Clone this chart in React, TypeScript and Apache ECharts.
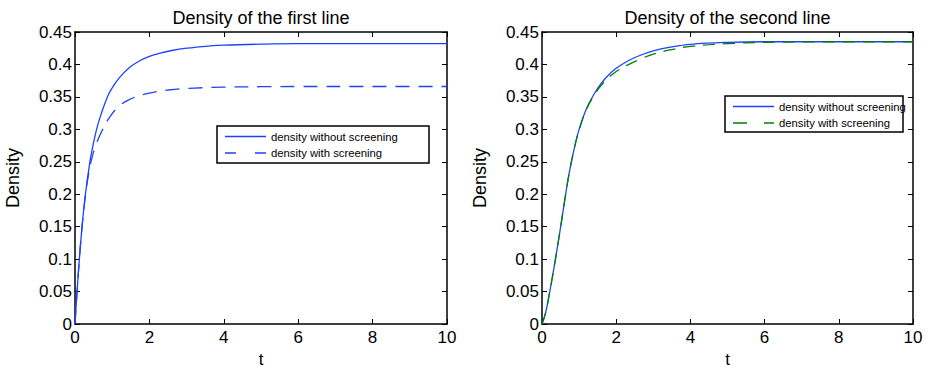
import React, { useEffect, useRef } from "react";
import * as echarts from "echarts";

// ---------- data ----------
const TITLE_LEFT = "Density of the first line";
const TITLE_RIGHT = "Density of the second line";
const X_NAME = "t";
const Y_NAME = "Density";
const NAME_SOLID = "density without screening";
const NAME_DASHED = "density with screening";

const X_MIN = 0;
const X_MAX = 10;
const X_STEP = 2;
const Y_MIN = 0;
const Y_MAX = 0.45;
const Y_STEP = 0.05;

// left panel: density without screening
const leftSolidT = [0, 0.05, 0.117, 0.19, 0.28, 0.4, 0.48, 0.58, 0.7, 0.87, 1.0, 1.2, 1.48, 1.75, 2.0, 2.29, 2.6, 3.0, 3.63, 4.0, 5.0, 6.0, 7.0, 8.0, 9.0, 10.0];
const leftSolidV = [0, 0.045, 0.1, 0.15, 0.2, 0.25, 0.274, 0.3, 0.323, 0.35, 0.364, 0.38, 0.396, 0.406, 0.4125, 0.4175, 0.4215, 0.425, 0.4285, 0.4298, 0.4313, 0.432, 0.432, 0.432, 0.432, 0.432];
// left panel: density with screening
const leftDashedT = [0, 0.05, 0.117, 0.19, 0.28, 0.35, 0.43, 0.55, 0.72, 0.9, 1.12, 1.43, 1.93, 2.56, 3.2, 4.0, 5.0, 6.0, 8.0, 10.0];
const leftDashedV = [0, 0.045, 0.1, 0.15, 0.198, 0.226, 0.25, 0.274, 0.297, 0.316, 0.332, 0.345, 0.355, 0.361, 0.3635, 0.365, 0.3657, 0.366, 0.366, 0.366];

// right panel: density without screening
const rightSolidT = [0, 0.1, 0.2, 0.3, 0.4, 0.5, 0.6, 0.7, 0.8, 0.9, 1.0, 1.2, 1.4, 1.6, 1.8, 2.0, 2.3, 2.6, 3.0, 3.5, 4.0, 5.0, 6.0, 8.0, 10.0];
const rightSolidV = [0, 0.018, 0.047, 0.079, 0.113, 0.149, 0.186, 0.222, 0.252, 0.278, 0.3, 0.332, 0.354, 0.371, 0.384, 0.394, 0.405, 0.413, 0.421, 0.427, 0.431, 0.434, 0.435, 0.435, 0.435];
// right panel: density with screening
const rightDashedT = [0, 0.1, 0.2, 0.3, 0.4, 0.5, 0.6, 0.7, 0.8, 0.9, 1.0, 1.2, 1.4, 1.6, 1.8, 2.0, 2.3, 2.6, 3.0, 3.5, 4.0, 5.0, 6.0, 8.0, 10.0];
const rightDashedV = [0, 0.018, 0.047, 0.079, 0.113, 0.149, 0.186, 0.222, 0.252, 0.278, 0.299, 0.331, 0.352, 0.368, 0.38, 0.389, 0.399, 0.407, 0.416, 0.423, 0.428, 0.432, 0.434, 0.435, 0.435];

// ---------- styles ----------
const FONT = "'Liberation Sans', Arial, Helvetica, sans-serif";
const BLUE = "#1e40ff";
const GREEN = "#008000";

const zip = (t: number[], v: number[]) => t.map((x, i) => [x, v[i]]);

const GRIDS = [
  { left: 75, top: 32, width: 372, height: 292 },
  { left: 542, top: 32, width: 371, height: 292 },
];

export default function App() {
  const ref = useRef<HTMLDivElement>(null);

  useEffect(() => {
    if (!ref.current) return;
    const chart = echarts.init(ref.current, undefined, { renderer: "svg" });

    const tickStyle = { show: true, inside: true, length: 5, lineStyle: { color: "#000", width: 1 } };
    const lineStyle = { show: true, onZero: false, lineStyle: { color: "#000", width: 1.5 } };
    const yFmt = (v: number) => String(+v.toFixed(2));

    const xAxes: any[] = [];
    const yAxes: any[] = [];
    [0, 1].forEach((g) => {
      xAxes.push({
        type: "value", gridIndex: g, position: "bottom", min: X_MIN, max: X_MAX, interval: X_STEP,
        axisLine: lineStyle, axisTick: tickStyle, splitLine: { show: false },
        axisLabel: { color: "#000", fontSize: 17, fontFamily: FONT, margin: 5 },
        name: X_NAME, nameLocation: "middle", nameGap: 23,
        nameTextStyle: { color: "#000", fontSize: 17, fontFamily: FONT, lineHeight: 16 },
      });
      xAxes.push({
        type: "value", gridIndex: g, position: "top", min: X_MIN, max: X_MAX, interval: X_STEP,
        axisLine: lineStyle, axisTick: tickStyle, splitLine: { show: false }, axisLabel: { show: false },
      });
      yAxes.push({
        type: "value", gridIndex: g, position: "left", min: Y_MIN, max: Y_MAX, interval: Y_STEP,
        axisLine: lineStyle, axisTick: tickStyle, splitLine: { show: false },
        axisLabel: { color: "#000", fontSize: 17, fontFamily: FONT, margin: 3, formatter: yFmt },
        name: Y_NAME, nameLocation: "middle", nameGap: 53, nameRotate: 90,
        nameTextStyle: { color: "#000", fontSize: 18, fontFamily: FONT },
      });
      yAxes.push({
        type: "value", gridIndex: g, position: "right", min: Y_MIN, max: Y_MAX, interval: Y_STEP,
        axisLine: lineStyle, axisTick: tickStyle, splitLine: { show: false }, axisLabel: { show: false },
      });
    });

    const mk = (name: string, data: number[][], g: number, color: string, dash: any) => ({
      type: "line", name, xAxisIndex: g * 2, yAxisIndex: g * 2, data,
      showSymbol: false, symbol: "none", smooth: 0.4,
      lineStyle: { color, width: 1.3, type: dash }, z: 3,
    });

    const legendBox = (x: number, y: number, w: number, h: number, rows: { name: string; color: string; dash: any }[]) => {
      const children: any[] = [
        { type: "rect", shape: { x: 0, y: 0, width: w, height: h }, style: { fill: "#fff", stroke: "#000", lineWidth: 1.5 } },
      ];
      rows.forEach((r, i) => {
        const cy = 10.5 + i * 16.5;
        children.push({
          type: "line", shape: { x1: 8, y1: cy, x2: 49, y2: cy },
          style: { stroke: r.color, lineWidth: 1.3, lineDash: r.dash },
        });
        children.push({
          type: "text", x: 54, y: cy,
          style: { text: r.name, fill: "#000", fontSize: 11.3, fontFamily: FONT, verticalAlign: "middle", align: "left" },
        });
      });
      return { type: "group", x, y, children, z: 10 };
    };

    chart.setOption({
      animation: false,
      backgroundColor: "#fff",
      title: [
        { text: TITLE_LEFT, left: 261, top: 9, padding: 0, textAlign: "center",
          textStyle: { fontSize: 18, fontWeight: "normal", fontFamily: FONT, color: "#000" } },
        { text: TITLE_RIGHT, left: 727.5, top: 9, padding: 0, textAlign: "center",
          textStyle: { fontSize: 18, fontWeight: "normal", fontFamily: FONT, color: "#000" } },
      ],
      grid: GRIDS.map((g) => ({ ...g, containLabel: false, outerBoundsMode: "none" })),
      xAxis: xAxes,
      yAxis: yAxes,
      series: [
        mk(NAME_SOLID, zip(leftSolidT, leftSolidV), 0, BLUE, "solid"),
        mk(NAME_DASHED, zip(leftDashedT, leftDashedV), 0, BLUE, [14, 9]),
        mk(NAME_SOLID, zip(rightSolidT, rightSolidV), 1, BLUE, "solid"),
        mk(NAME_DASHED, zip(rightDashedT, rightDashedV), 1, GREEN, [12, 8]),
      ],
      graphic: [
        legendBox(217, 126, 212, 37, [
          { name: NAME_SOLID, color: BLUE, dash: null },
          { name: NAME_DASHED, color: BLUE, dash: [11, 19] },
        ]),
        legendBox(725, 96, 178, 36, [
          { name: NAME_SOLID, color: BLUE, dash: null },
          { name: NAME_DASHED, color: GREEN, dash: [14, 17] },
        ]),
      ],
    });

    return () => chart.dispose();
  }, []);

  return (
    <div
      ref={ref}
      style={{ position: "absolute", left: 0, top: 0, width: 928, height: 368, background: "#fff" }}
    />
  );
}
